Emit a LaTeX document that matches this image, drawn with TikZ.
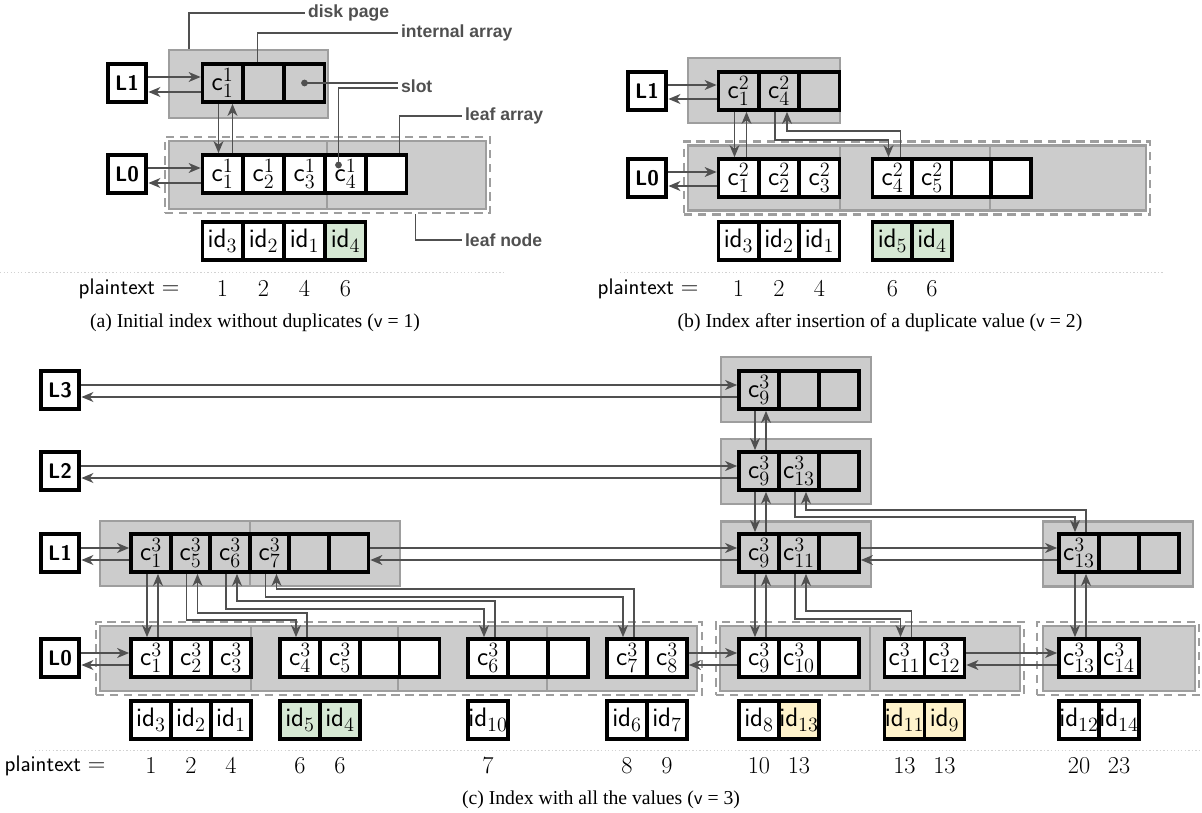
\documentclass[tikz,border=0pt]{standalone}
\usepackage{fontspec}
\newfontfamily\capfont{Liberation Serif}
\newfontfamily\notefont{Liberation Sans}
\usepackage{tikz}
\usetikzlibrary{arrows.meta,positioning,calc}
\definecolor{linkgray}{RGB}{80,80,80}
\definecolor{pagegray}{RGB}{204,204,204}
\definecolor{edgegray}{RGB}{158,158,158}
\definecolor{dupgreen}{RGB}{214,232,212}
\definecolor{dupyellow}{RGB}{255,243,204}

\begin{document}
\begin{tikzpicture}[
    x=0.025cm, y=-0.025cm,
    cell/.style={rectangle, draw=black, line width=2.6pt, minimum width=1cm,
      minimum height=0.95cm, inner sep=0pt, font=\fontsize{19}{22}\selectfont},
    leaf/.style={cell, fill=white},
    lvl/.style={rectangle, draw=black, line width=2.8pt, fill=white,
      minimum size=0.97cm, inner sep=0pt,
      font=\fontsize{15}{18}\selectfont\sffamily\bfseries},
    page/.style={rectangle, draw=edgegray, fill=pagegray, line width=1.5pt,
      inner sep=0pt, minimum height=1.625cm},
    leafnode/.style={rectangle, draw=edgegray, line width=1.7pt,
      dash pattern=on 6pt off 4pt, inner sep=0pt, minimum height=1.825cm},
    link/.style={-{Stealth[length=8.5pt,width=7pt,inset=2.5pt]}, draw=linkgray,
      line width=1.4pt},
    note/.style={anchor=west, inner sep=2pt, text=linkgray,
      font=\notefont\bfseries\fontsize{12.5}{15}\selectfont},
    noteline/.style={draw=linkgray, line width=1.4pt},
    num/.style={inner sep=1pt, font=\fontsize{16}{19}\selectfont},
    sep/.style={draw=gray!35, line width=0.6pt, dash pattern=on 1pt off 1.5pt},
    caption/.style={font=\capfont\fontsize{14}{17}\selectfont}
  ]
  \useasboundingbox (0,0) rectangle (1202,813);

  %% ===== (a) initial index =====
  \node[lvl] (aL1) at (127,83) {L1};
  \node[lvl] (aL0) at (127,174) {L0};

  \node[page, minimum width=3.975cm, minimum height=1.7cm] (aP1) at (248.5,84) {};
  \node[leafnode, minimum width=8.125cm, minimum height=1.9cm] (aLeaf) at (327.5,175) {};
  \node[page, minimum width=3.95cm, minimum height=1.7cm] (aP2) at (248,175) {};
  \node[page, minimum width=3.975cm, minimum height=1.7cm] (aP3) at (406.5,175) {};

  % internal array
  \node[cell] (a1-1) at (222.5,83) {$\mathsf{c}^1_1$};
  \node[cell] (a1-x1) at (263.5,83) {};
  \node[cell] (a1-x2) at (304.5,83) {};

  % leaf array and ids
  \foreach \k in {1,...,4}
    \node[leaf] (a0-\k) at ({181.5+41*\k},174) {$\mathsf{c}^1_{\k}$};
  \node[leaf] (a0-x1) at (386.5,174) {};
  \foreach \k/\x in {3/222.5, 2/263.5, 1/304.5}
    \node[leaf] (aid-\k) at (\x,241) {$\mathsf{id}_{\k}$};
  \node[leaf, fill=dupgreen] (aid-4) at (345.5,241) {$\mathsf{id}_4$};

  % plaintexts
  \draw[sep] (0,272) -- (503,272);
  \node[num] (aPlain) at (129,289) {\textsf{plaintext} $=$};
  \foreach \i/\x/\v in {1/222.5/1, 2/263.5/2, 3/304.5/4, 4/345.5/6}
    \node[num] (an-\i) at (\x,289) {$\v$};
  \node[caption] (capA) at (255,323) {(a) Initial index without duplicates (\textsf{v} = 1)};

  % links
  \draw[link] ($(aL1.east)+(0,-6)$) -- ($(a1-1.west)+(0,-6)$);
  \draw[link] ($(a1-1.west)+(0,9)$) -- ($(aL1.east)+(0,9)$);
  \draw[link] ($(aL0.east)+(0,-6)$) -- ($(a0-1.west)+(0,-6)$);
  \draw[link] ($(a0-1.west)+(0,9)$) -- ($(aL0.east)+(0,9)$);
  \draw[link] ($(a1-1.south)+(-4,0)$) -- ($(a0-1.north)+(-4,0)$);
  \draw[link] ($(a0-1.north)+(10,0)$) -- ($(a1-1.south)+(10,0)$);

  %% --- labels ---
  \node[note] (nDisk) at (305,13) {disk page};
  \node[note] (nInt) at (398,33) {internal array};
  \node[note] (nSlot) at (398,86) {slot};
  \node[note] (nLeafArr) at (462,116) {leaf array};
  \node[note] (nLeafNode) at (462,240) {leaf node};
  \coordinate (slotA) at (a1-x2.center);
  \coordinate (slotB) at ($(a0-4.center)+(-7,-9)$);
  \draw[noteline] ($(aP1.north west)+(21,0)$) |- (nDisk.west);
  \draw[noteline] ($(a1-x1.north)+(-6,0)$) |- (nInt.west);
  \draw[noteline] (slotA) -- (slotA -| nSlot.west);
  \draw[noteline] (slotB) |- ($(slotA -| nSlot.west)+(0,5)$);
  \fill[linkgray] (slotA) circle (2.4pt) (slotB) circle (2.4pt);
  \draw[noteline] ($(a0-x1.north)+(13,0)$) |- (nLeafArr.west);
  \draw[noteline] ($(aLeaf.south)+(88,0)$) |- (nLeafNode.west);

  %% ===== (b) one duplicate =====
  \node[lvl] (bL1) at (647,91) {L1};
  \node[lvl] (bL0) at (647,178) {L0};

  \node[page, minimum width=3.8cm] (bP1) at (764,90.5) {};
  \node[leafnode, minimum width=11.65cm] (bLeaf) at (917,178) {};
  \node[page, minimum width=3.8cm] (bP2) at (764,178) {};
  \node[page, minimum width=3.75cm] (bP3) at (915,178) {};
  \node[page, minimum width=3.9cm] (bP4) at (1068,178) {};

  \node[cell] (b1-1) at (738.5,91) {$\mathsf{c}^2_1$};
  \node[cell] (b1-4) at (779,91) {$\mathsf{c}^2_4$};
  \node[cell] (b1-x1) at (819.5,91) {};

  \foreach \k/\x in {1/738.5, 2/779, 3/819.5, 4/892.5, 5/932}
    \node[leaf] (b0-\k) at (\x,178) {$\mathsf{c}^2_{\k}$};
  \node[leaf] (b0-x1) at (971.5,178) {};
  \node[leaf] (b0-x2) at (1011,178) {};

  \foreach \k/\x in {3/738.5, 2/779, 1/819.5}
    \node[leaf] (bid-\k) at (\x,241) {$\mathsf{id}_{\k}$};
  \foreach \k/\x in {5/892.5, 4/932}
    \node[leaf, fill=dupgreen] (bid-\k) at (\x,241) {$\mathsf{id}_{\k}$};

  \draw[sep] (620,272) -- (1163,272);
  \node[num] (bPlain) at (648,289) {\textsf{plaintext} $=$};
  \foreach \i/\x/\v in {1/738.5/1, 2/779/2, 3/819.5/4, 4/892.5/6, 5/932/6}
    \node[num] (bn-\i) at (\x,289) {$\v$};
  \node[caption] (capB) at (880,323) {(b) Index after insertion of a duplicate value (\textsf{v} = 2)};

  \foreach \lv/\n in {1/b1-1, 0/b0-1} {
    \draw[link] ($(bL\lv.east)+(0,-6)$) -- ($(\n.west)+(0,-6)$);
    \draw[link] ($(\n.west)+(0,8)$) -- ($(bL\lv.east)+(0,8)$);
  }
  \draw[link] ($(b1-1.south)+(-4,0)$) -- ($(b0-1.north)+(-4,0)$);
  \draw[link] ($(b0-1.north)+(8,0)$) -- ($(b1-1.south)+(8,0)$);
  \draw[link] ($(b1-4.south)+(-4,0)$) -- ++(0,28) -| ($(b0-4.north)+(-4,0)$);
  \draw[link] ($(b0-4.north)+(8,0)$) -- ++(0,-26) -| ($(b1-4.south)+(8,0)$);

  %% ===== (c) all values =====
  \node[lvl] (cL3) at (60,390) {L3};
  \node[lvl] (cL2) at (60,471) {L2};
  \node[lvl] (cL1) at (60,553) {L1};
  \node[lvl] (cL0) at (60,658) {L0};

  % internal pages
  \node[page, minimum width=3.75cm] (cP3) at (796,389.5) {};
  \node[page, minimum width=3.75cm] (cP2) at (796,471.5) {};
  \node[page, minimum width=3.75cm] (cP1m) at (796,554) {};
  \node[page, minimum width=3.75cm] (cP1a) at (175,553.5) {};
  \node[page, minimum width=3.75cm] (cP1b) at (325,553.5) {};
  \node[page, minimum width=3.75cm] (cP1r) at (1118,554) {};

  % leaf nodes
  \node[leafnode, minimum width=15.15cm] (cLeaf1) at (399,658.5) {};
  \node[leafnode, minimum width=7.7cm] (cLeaf2) at (870,658.5) {};
  \node[leafnode, minimum width=4.05cm] (cLeaf3) at (1118,658.5) {};
  \foreach \n/\x/\w in {1/175.5/3.775, 2/324.5/3.675, 3/472.5/3.725, 4/622/3.75,
                        5/795/3.75, 6/945/3.75, 7/1119/3.8}
    \node[page, minimum width=\w cm] (cQ\n) at (\x,658.5) {};

  % internal arrays
  \node[cell] (c3-9) at (759,390) {$\mathsf{c}^3_9$};
  \node[cell] (c3-x1) at (799,390) {};
  \node[cell] (c3-x2) at (839,390) {};
  \node[cell] (c2-9) at (759,471) {$\mathsf{c}^3_9$};
  \node[cell] (c2-13) at (799,471) {$\mathsf{c}^3_{13}$};
  \node[cell] (c2-x1) at (839,471) {};
  \node[cell] (c1-9) at (759,553) {$\mathsf{c}^3_9$};
  \node[cell] (c1-11) at (799,553) {$\mathsf{c}^3_{11}$};
  \node[cell] (c1-x3) at (839,553) {};
  \node[cell] (c1-13) at (1079,553) {$\mathsf{c}^3_{13}$};
  \node[cell] (c1-x4) at (1119,553) {};
  \node[cell] (c1-x5) at (1159,553) {};
  \foreach \k/\x in {1/151, 5/190.5, 6/230, 7/269.5}
    \node[cell] (c1-\k) at (\x,553) {$\mathsf{c}^3_{\k}$};
  \node[cell] (c1-x1) at (309,553) {};
  \node[cell] (c1-x2) at (348.5,553) {};

  % leaf arrays
  \foreach \k/\x in {1/151, 2/191, 3/231, 4/300, 5/340, 6/488, 7/627, 8/667,
                     9/759, 10/799, 11/904.5, 12/944.5, 13/1079, 14/1119}
    \node[leaf] (c0-\k) at (\x,658) {$\mathsf{c}^3_{\k}$};
  \foreach \n/\x in {1/380, 2/419.5, 3/528, 4/568, 5/839}
    \node[leaf] (c0-x\n) at (\x,658) {};

  % ids
  \foreach \k/\x in {3/151, 2/191, 1/231, 10/488, 6/627, 7/667, 8/759, 12/1079, 14/1119}
    \node[leaf] (cid-\k) at (\x,720) {$\mathsf{id}_{\k}$};
  \foreach \k/\x in {5/300, 4/340}
    \node[leaf, fill=dupgreen] (cid-\k) at (\x,720) {$\mathsf{id}_{\k}$};
  \foreach \k/\x in {13/799, 11/904.5, 9/944.5}
    \node[leaf, fill=dupyellow] (cid-\k) at (\x,720) {$\mathsf{id}_{\k}$};

  % plaintexts
  \draw[sep] (35,750) -- (1200,750);
  \node[num] (cPlain) at (55,766) {\textsf{plaintext} $=$};
  \foreach \i/\x/\v in {1/151/1, 2/191/2, 3/231/4, 4/300/6, 5/340/6, 6/488/7,
                        7/627/8, 8/667/9, 9/759/10, 10/799/13, 11/904.5/13,
                        12/944.5/13, 13/1079/20, 14/1119/23}
    \node[num] (cn-\i) at (\x,766) {$\v$};
  \node[caption] (capC) at (601,800) {(c) Index with all the values (\textsf{v} = 3)};

  % links
  \foreach \lv/\n in {3/c3-9, 2/c2-9, 1/c1-1, 0/c0-1} {
    \draw[link] ($(cL\lv.east)+(0,-5)$) -- ($(\n.west)+(0,-5)$);
    \draw[link] ($(\n.west)+(0,7)$) -- ($(cL\lv.east)+(0,7)$);
  }
  \foreach \p/\q in {c1-x2/c1-9, c1-x3/c1-13, c0-8/c0-9, c0-12/c0-13} {
    \draw[link] ($(\p.east)+(0,-5)$) -- ($(\q.west)+(0,-5)$);
    \draw[link] ($(\q.west)+(0,7)$) -- ($(\p.east)+(0,7)$);
  }
  \foreach \p/\q in {c3-9/c2-9, c2-9/c1-9, c1-9/c0-9, c1-1/c0-1, c1-13/c0-13} {
    \draw[link] ($(\p.south)+(-4,0)$) -- ($(\q.north)+(-4,0)$);
    \draw[link] ($(\q.north)+(7,0)$) -- ($(\p.south)+(7,0)$);
  }
  \foreach \p/\q/\dy/\uy in {c1-5/c0-4/46/24, c1-6/c0-6/35/36, c1-7/c0-7/23/48,
                             c1-11/c0-11/45/26, c2-13/c1-13/25/22} {
    \draw[link] ($(\p.south)+(-4,0)$) -- ++(0,\dy) -| ($(\q.north)+(-4,0)$);
    \draw[link] ($(\q.north)+(7,0)$) -- ++(0,-\uy) -| ($(\p.south)+(7,0)$);
  }
\end{tikzpicture}
\end{document}
